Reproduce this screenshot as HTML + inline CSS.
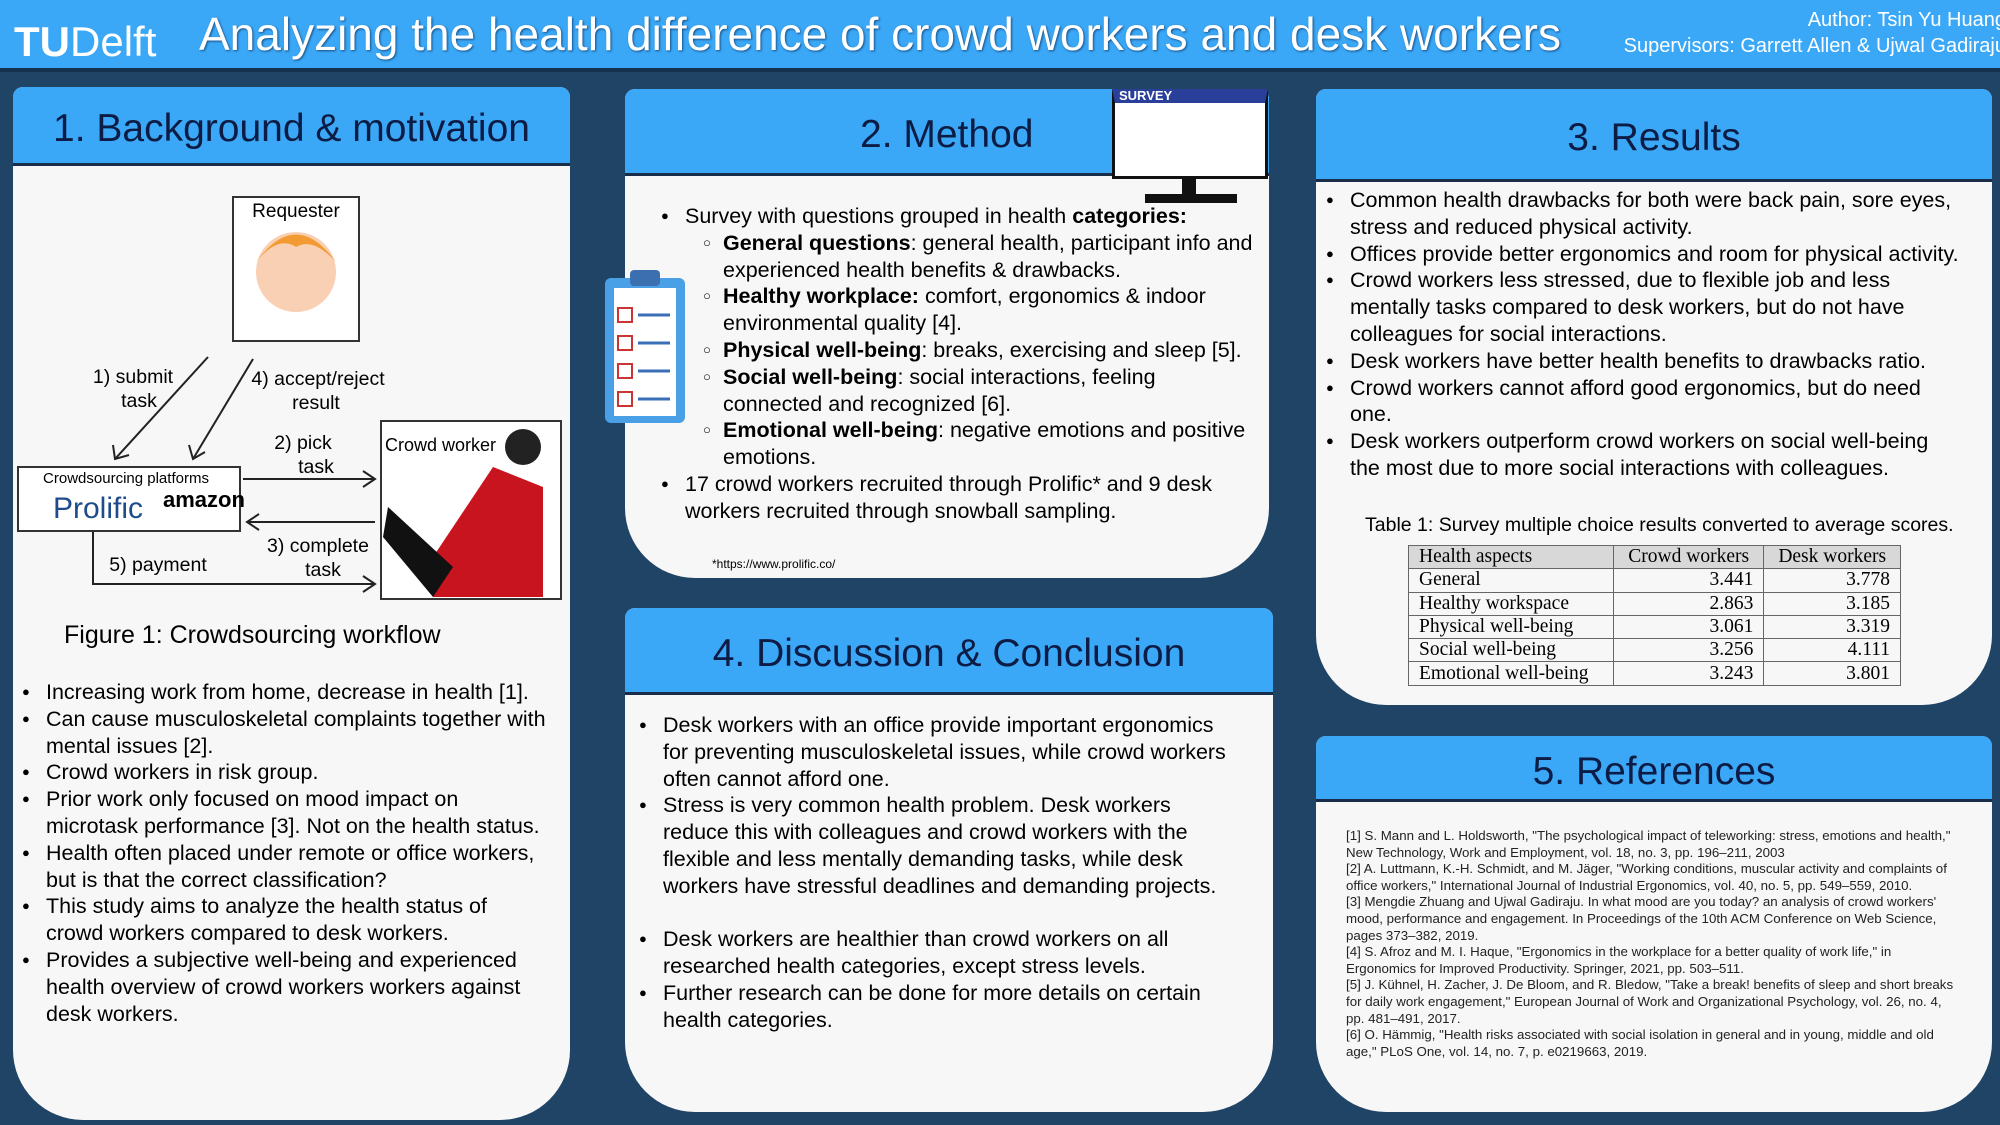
<!DOCTYPE html>
<html><head><meta charset="utf-8"><style>
*{margin:0;padding:0;box-sizing:border-box}
body{width:2000px;height:1125px;overflow:hidden;background:#1f4466;font-family:"Liberation Sans",sans-serif;position:relative;color:#000}
.hdr{position:absolute;left:0;top:0;width:2000px;height:72px;background:#3aa8f7;border-bottom:4px solid #16324f}
.panel{position:absolute;background:#f7f7f7;border-radius:10px 10px 70px 70px;overflow:hidden}
.ph{position:absolute;left:0;top:0;width:100%;background:#3aa8f7;border-bottom:3px solid #1a2d48;color:#0d1c44;font-size:39px;display:flex;align-items:center;justify-content:center;padding-top:8px}
ul{list-style:none;position:absolute}
li{position:relative;font-size:21.5px;line-height:26.8px}
ul.nw li{white-space:nowrap}
li:before{content:"●";position:absolute;left:-24px;font-size:13px;top:0}
li.sub:before{content:"○";left:-20px}
.refs{position:absolute;font-size:13.3px;line-height:16.6px;color:#222}
table{border-collapse:collapse;font-family:"Liberation Serif",serif;font-size:19.5px}
td,th{border:1px solid #666;padding:0 10px;height:23.3px;font-weight:normal;line-height:22px}
th{background:#d8d8d8;text-align:left}
td.n{text-align:right}
</style></head><body>
<div class="hdr">
<div style="position:absolute;left:14px;top:16px;color:#fff;font-size:42px;line-height:52px"><b>TU</b>Delft</div>
<div style="position:absolute;left:199px;top:8px;color:#fff;font-size:46px;line-height:52px;white-space:nowrap;text-shadow:1px 1px 2px #1a4d80">Analyzing the health difference of crowd workers and desk workers</div>
<div style="position:absolute;right:-6px;top:7px;color:#fff;font-size:20px;line-height:26px;text-align:right;white-space:nowrap">Author: Tsin Yu Huang<br>Supervisors: Garrett Allen &amp; Ujwal Gadiraju</div>
</div>

<div class="panel" style="left:13px;top:87px;width:557px;height:1033px">
<div class="ph" style="height:79px">1. Background &amp; motivation</div>
<svg style="position:absolute;left:0;top:0" width="557" height="520">
<rect x="220" y="110" width="126" height="144" fill="#fff" stroke="#333" stroke-width="2"/>
<text x="283" y="130" font-size="19" text-anchor="middle" font-family="Liberation Sans">Requester</text>
<circle cx="283" cy="185" r="40" fill="#f9d0b4"/><path d="M243 175 Q283 120 323 175 Q300 150 283 160 Q265 148 243 175Z" fill="#f29b32"/>
<rect x="5" y="380" width="222" height="64" fill="#fff" stroke="#333" stroke-width="2"/>
<text x="113" y="396" font-size="15" text-anchor="middle" font-family="Liberation Sans">Crowdsourcing platforms</text>
<text x="40" y="431" font-size="30" fill="#1d4b8c" font-family="Liberation Sans">Prolific</text>
<text x="150" y="420" font-size="22" font-weight="bold" font-family="Liberation Sans">amazon</text>
<rect x="368" y="334" width="180" height="178" fill="#fff" stroke="#333" stroke-width="2"/>
<text x="372" y="364" font-size="18" font-family="Liberation Sans">Crowd worker</text>
<path d="M420 470 L480 380 L530 400 L530 510 L420 510Z" fill="#c8141e"/><path d="M375 420 L440 480 L420 510 L370 450Z" fill="#111"/>
<circle cx="510" cy="360" r="18" fill="#222"/>
<g stroke="#222" stroke-width="2" fill="none">
<line x1="195" y1="270" x2="102" y2="372"/><path d="M100 358 L102 372 L116 368"/>
<line x1="240" y1="272" x2="180" y2="372"/><path d="M176 358 L180 372 L192 365"/>
<line x1="230" y1="392" x2="362" y2="392"/><path d="M350 384 L362 392 L350 400"/>
<line x1="362" y1="435" x2="234" y2="435"/><path d="M246 427 L234 435 L246 443"/>
<polyline points="80,445 80,497 362,497"/><path d="M350 489 L362 497 L350 505"/>
</g>
<g font-size="19.5" font-family="Liberation Sans" text-anchor="middle">
<text x="120" y="296">1) submit</text><text x="126" y="320">task</text>
<text x="305" y="298">4) accept/reject</text><text x="303" y="322">result</text>
<text x="290" y="362">2) pick</text><text x="303" y="386">task</text>
<text x="305" y="465">3) complete</text><text x="310" y="489">task</text>
<text x="145" y="484">5) payment</text>
</g>
</svg>
<div style="position:absolute;left:51px;top:534px;font-size:25px">Figure 1: Crowdsourcing workflow</div>
<ul class="nw" style="left:33px;top:592px;width:512px">
<li>Increasing work from home, decrease in health [1].</li>
<li>Can cause musculoskeletal complaints together with<br>mental issues [2].</li>
<li>Crowd workers in risk group.</li>
<li>Prior work only focused on mood impact on<br>microtask performance [3]. Not on the health status.</li>
<li>Health often placed under remote or office workers,<br>but is that the correct classification?</li>
<li>This study aims to analyze the health status of<br>crowd workers compared to desk workers.</li>
<li>Provides a subjective well-being and experienced<br>health overview of crowd workers workers against<br>desk workers.</li>
</ul>
</div>

<div class="panel" style="left:625px;top:89px;width:644px;height:489px">
<div class="ph" style="height:87px;justify-content:flex-start;padding-left:235px">2. Method</div>
<ul class="nw" style="left:60px;top:114px;width:578px">
<li>Survey with questions grouped in health <b>categories:</b></li>
<li class="sub" style="margin-left:38px"><b>General questions</b>: general health, participant info and<br>experienced health benefits &amp; drawbacks.</li>
<li class="sub" style="margin-left:38px"><b>Healthy workplace:</b> comfort, ergonomics &amp; indoor<br>environmental quality [4].</li>
<li class="sub" style="margin-left:38px"><b>Physical well-being</b>: breaks, exercising and sleep [5].</li>
<li class="sub" style="margin-left:38px"><b>Social well-being</b>: social interactions, feeling<br>connected and recognized [6].</li>
<li class="sub" style="margin-left:38px"><b>Emotional well-being</b>: negative emotions and positive<br>emotions.</li>
<li>17 crowd workers recruited through Prolific* and 9 desk<br>workers recruited through snowball sampling.</li>
</ul>
<div style="position:absolute;left:87px;top:468px;font-size:12px">*https://www.prolific.co/</div>
</div>
<svg style="position:absolute;left:590px;top:258px" width="110" height="170">
<rect x="15" y="20" width="80" height="145" rx="6" fill="#4aa0e6"/><rect x="24" y="30" width="62" height="128" fill="#fff"/>
<rect x="40" y="12" width="30" height="16" rx="4" fill="#3c6fb0"/>
<g stroke="#c33" stroke-width="2" fill="none"><rect x="28" y="50" width="14" height="14"/><rect x="28" y="78" width="14" height="14"/><rect x="28" y="106" width="14" height="14"/><rect x="28" y="134" width="14" height="14"/></g>
<g stroke="#3a6fb8" stroke-width="3"><line x1="48" y1="57" x2="80" y2="57"/><line x1="48" y1="85" x2="80" y2="85"/><line x1="48" y1="113" x2="80" y2="113"/><line x1="48" y1="141" x2="80" y2="141"/></g>
</svg>
<div style="position:absolute;left:1112px;top:89px;width:156px;height:90px;background:#fff;border:3px solid #111;border-top:14px solid #2a3f9a">
<div style="position:absolute;top:-14px;left:4px;color:#fff;font-size:13px;font-weight:bold;line-height:14px">SURVEY</div></div>
<div style="position:absolute;left:1182px;top:179px;width:14px;height:16px;background:#111"></div>
<div style="position:absolute;left:1145px;top:194px;width:92px;height:9px;background:#111"></div>

<div class="panel" style="left:625px;top:608px;width:648px;height:504px">
<div class="ph" style="height:87px">4. Discussion &amp; Conclusion</div>
<ul class="nw" style="left:38px;top:104px;width:588px">
<li>Desk workers with an office provide important ergonomics<br>for preventing musculoskeletal issues, while crowd workers<br>often cannot afford one.</li>
<li>Stress is very common health problem. Desk workers<br>reduce this with colleagues and crowd workers with the<br>flexible and less mentally demanding tasks, while desk<br>workers have stressful deadlines and demanding projects.</li>
<li style="margin-top:26.8px">Desk workers are healthier than crowd workers on all<br>researched health categories, except stress levels.</li>
<li>Further research can be done for more details on certain<br>health categories.</li>
</ul>
</div>

<div class="panel" style="left:1316px;top:89px;width:676px;height:616px">
<div class="ph" style="height:93px">3. Results</div>
<ul class="nw" style="left:34px;top:98px;width:628px">
<li>Common health drawbacks for both were back pain, sore eyes,<br>stress and reduced physical activity.</li>
<li>Offices provide better ergonomics and room for physical activity.</li>
<li>Crowd workers less stressed, due to flexible job and less<br>mentally tasks compared to desk workers, but do not have<br>colleagues for social interactions.</li>
<li>Desk workers have better health benefits to drawbacks ratio.</li>
<li>Crowd workers cannot afford good ergonomics, but do need<br>one.</li>
<li>Desk workers outperform crowd workers on social well-being<br>the most due to more social interactions with colleagues.</li>
</ul>
<div style="position:absolute;left:49px;top:425px;font-size:19.5px">Table 1: Survey multiple choice results converted to average scores.</div>
<table style="position:absolute;left:92px;top:456px;width:493px">
<tr><th style="width:205px">Health aspects</th><th style="text-align:center">Crowd workers</th><th style="text-align:center">Desk workers</th></tr>
<tr><td>General</td><td class="n">3.441</td><td class="n">3.778</td></tr>
<tr><td>Healthy workspace</td><td class="n">2.863</td><td class="n">3.185</td></tr>
<tr><td>Physical well-being</td><td class="n">3.061</td><td class="n">3.319</td></tr>
<tr><td>Social well-being</td><td class="n">3.256</td><td class="n">4.111</td></tr>
<tr><td>Emotional well-being</td><td class="n">3.243</td><td class="n">3.801</td></tr>
</table>
</div>

<div class="panel" style="left:1316px;top:736px;width:676px;height:376px">
<div class="ph" style="height:66px">5. References</div>
<div class="refs" style="left:30px;top:92px;width:610px">
[1] S. Mann and L. Holdsworth, "The psychological impact of teleworking: stress, emotions and health," New Technology, Work and Employment, vol. 18, no. 3, pp. 196–211, 2003<br>
[2] A. Luttmann, K.-H. Schmidt, and M. Jäger, "Working conditions, muscular activity and complaints of office workers," International Journal of Industrial Ergonomics, vol. 40, no. 5, pp. 549–559, 2010.<br>
[3] Mengdie Zhuang and Ujwal Gadiraju. In what mood are you today? an analysis of crowd workers' mood, performance and engagement. In Proceedings of the 10th ACM Conference on Web Science, pages 373–382, 2019.<br>
[4] S. Afroz and M. I. Haque, "Ergonomics in the workplace for a better quality of work life," in Ergonomics for Improved Productivity. Springer, 2021, pp. 503–511.<br>
[5] J. Kühnel, H. Zacher, J. De Bloom, and R. Bledow, "Take a break! benefits of sleep and short breaks for daily work engagement," European Journal of Work and Organizational Psychology, vol. 26, no. 4, pp. 481–491, 2017.<br>
[6] O. Hämmig, "Health risks associated with social isolation in general and in young, middle and old age," PLoS One, vol. 14, no. 7, p. e0219663, 2019.
</div>
</div>
</body></html>
